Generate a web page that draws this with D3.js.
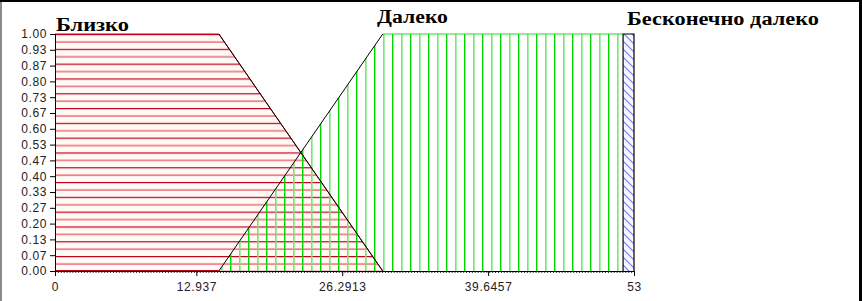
<!DOCTYPE html>
<html>
<head>
<meta charset="utf-8">
<script src="https://cdn.jsdelivr.net/npm/d3@7"></script>
<style>
  html, body { margin: 0; padding: 0; background: #fff; }
  svg { display: block; }
</style>
</head>
<body>
<svg id="chart" width="862" height="301"></svg>
<script>
// ---- data ----
const setNames = ["Близко", "Далеко", "Бесконечно далеко"];
const closeX = [0, 0, 15, 30];
const closeY = [0, 1, 1, 0];
const farX = [15, 30, 52, 52];
const farY = [0, 1, 1, 0];
const infX = [52, 52, 53, 53];
const infY = [0, 1, 1, 0];
const xTickValues = [0, 12.937, 26.2913, 39.6457, 53];
const xTickLabels = ["0", "12.937", "26.2913", "39.6457", "53"];
const yTickLabels = ["0.00", "0.07", "0.13", "0.20", "0.27", "0.33", "0.40", "0.47",
                     "0.53", "0.60", "0.67", "0.73", "0.80", "0.87", "0.93", "1.00"];
const xDomain = [0, 53];
const yDomain = [0, 1];
const xMinorCount = 200;

// ---- layout ----
const W = 862, H = 301;
const mLeft = 55, mRight = 634, mTop = 34, mBottom = 271;

const svg = d3.select("#chart");
const x = d3.scaleLinear().domain(xDomain).range([mLeft, mRight]);
const y = d3.scaleLinear().domain(yDomain).range([mBottom, mTop]);

// frame
svg.append("rect").attr("x", 0).attr("y", 0).attr("width", W).attr("height", 2).attr("fill", "#000");
svg.append("rect").attr("x", 0).attr("y", 2).attr("width", 2).attr("height", H).attr("fill", "#8a8a8a");
svg.append("rect").attr("x", 859).attr("y", 0).attr("width", 3).attr("height", H).attr("fill", "#000");

// patterns
const defs = svg.append("defs");
const pRed = defs.append("pattern").attr("id", "pRed").attr("patternUnits", "userSpaceOnUse")
  .attr("x", 0).attr("y", mTop).attr("width", 10).attr("height", 14.8);
pRed.append("rect").attr("width", 10).attr("height", 14.8).attr("fill", "#fffaf6");
pRed.append("rect").attr("y", 0).attr("width", 10).attr("height", 1.2).attr("fill", "#c4001c");
pRed.append("rect").attr("y", 7.2).attr("width", 10).attr("height", 1.7).attr("fill", "#ec7e84");

const pGreen = defs.append("pattern").attr("id", "pGreen").attr("patternUnits", "userSpaceOnUse")
  .attr("x", 230).attr("y", 0).attr("width", 18).attr("height", 10);
pGreen.append("rect").attr("x", 0).attr("width", 1.4).attr("height", 10).attr("fill", "#00d800");
pGreen.append("rect").attr("x", 9).attr("width", 1.6).attr("height", 10).attr("fill", "#6cec6c");

const pBlue = defs.append("pattern").attr("id", "pBlue").attr("patternUnits", "userSpaceOnUse")
  .attr("x", 0).attr("y", mTop).attr("width", 8).attr("height", 8);
pBlue.append("rect").attr("width", 8).attr("height", 8).attr("fill", "#f6f6ff");
pBlue.append("path").attr("d", "M-1,-1 L9,9 M-1,7 L1,9 M7,-1 L9,1")
  .attr("stroke", "#7a7ae0").attr("stroke-width", 1.1).attr("fill", "none");

const pts = (xs, ys) => xs.map((v, i) => [x(v), y(ys[i])]);
const line = d3.line();

// close set
svg.append("path").attr("d", line(pts(closeX, closeY)) + "Z").attr("fill", "url(#pRed)");
// far set
svg.append("path").attr("d", line(pts(farX, farY)) + "Z").attr("fill", "url(#pGreen)");
// infinitely far set
svg.append("path").attr("d", line(pts(infX, infY)) + "Z").attr("fill", "url(#pBlue)");

// outlines
svg.append("path").attr("d", line(pts(closeX.slice(1), closeY.slice(1))))
  .attr("fill", "none").attr("stroke", "#c4001c").attr("stroke-width", 1);
svg.append("path").attr("d", line(pts(closeX.slice(2), closeY.slice(2))))
  .attr("fill", "none").attr("stroke", "#000").attr("stroke-width", 1);
svg.append("path").attr("d", line(pts(farX.slice(1, 3), farY.slice(1, 3))))
  .attr("fill", "none").attr("stroke", "#30d030").attr("stroke-width", 1);
svg.append("path").attr("d", line(pts(farX.slice(0, 2), farY.slice(0, 2))))
  .attr("fill", "none").attr("stroke", "#000").attr("stroke-width", 1);
svg.append("path").attr("d", line(pts(infX, infY)))
  .attr("fill", "none").attr("stroke", "#000").attr("stroke-width", 1.2);
svg.append("line").attr("x1", x(0)).attr("x2", x(15)).attr("y1", y(0) - 0.5).attr("y2", y(0) - 0.5)
  .attr("stroke", "#c4001c").attr("stroke-width", 1);

// axes
const fontAxis = "'Liberation Sans', Arial, sans-serif";
const yAxis = d3.axisLeft(y)
  .tickValues(yTickLabels.map((d, i) => i / (yTickLabels.length - 1)))
  .tickFormat((d, i) => yTickLabels[i])
  .tickSize(5).tickPadding(3);
const gy = svg.append("g").attr("transform", `translate(${mLeft},0)`).call(yAxis);
gy.select(".domain").attr("stroke", "#000");
gy.selectAll(".tick line").attr("stroke", "#000");
gy.selectAll("text").attr("font-family", fontAxis).attr("font-size", 12)
  .attr("fill", "#222").attr("letter-spacing", 0.6);

const minor = d3.axisBottom(x)
  .tickValues(d3.range(xMinorCount + 1).map(i => xDomain[0] + (xDomain[1] - xDomain[0]) * i / xMinorCount))
  .tickFormat("").tickSize(2);
const gm = svg.append("g").attr("transform", `translate(0,${mBottom})`).call(minor);
gm.select(".domain").remove();
gm.selectAll(".tick line").attr("stroke", "#333");

const xAxis = d3.axisBottom(x).tickValues(xTickValues)
  .tickFormat((d, i) => xTickLabels[i]).tickSize(5).tickPadding(6).tickSizeOuter(0);
const gx = svg.append("g").attr("transform", `translate(0,${mBottom})`).call(xAxis);
gx.select(".domain").attr("stroke", "#000");
gx.selectAll(".tick line").attr("stroke", "#000");
gx.selectAll("text").attr("font-family", fontAxis).attr("font-size", 12)
  .attr("fill", "#222").attr("letter-spacing", 0.6);

// set names
const fontLabel = "'Liberation Serif', 'Times New Roman', serif";
const labelPos = [[56, 31, 73], [377, 23, 71], [627, 25, 192]];
svg.selectAll("text.setname").data(setNames).join("text")
  .attr("class", "setname")
  .attr("x", (d, i) => labelPos[i][0]).attr("y", (d, i) => labelPos[i][1])
  .attr("textLength", (d, i) => labelPos[i][2]).attr("lengthAdjust", "spacingAndGlyphs")
  .attr("font-family", fontLabel).attr("font-weight", "bold").attr("font-size", 18)
  .attr("fill", "#000").text(d => d);
</script>
</body>
</html>
